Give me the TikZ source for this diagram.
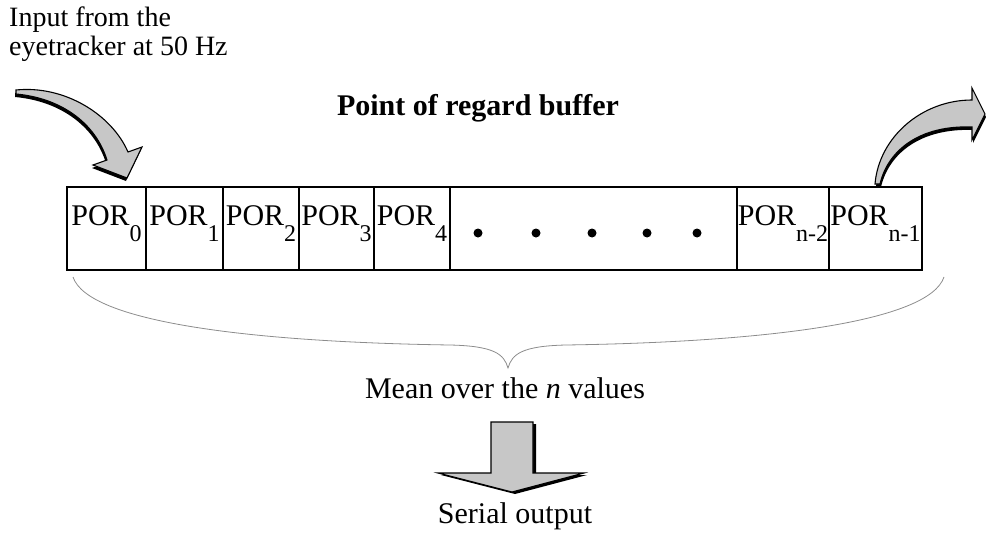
\documentclass[tikz,border=0pt]{standalone}
\usepackage{fontspec}
\setmainfont{Liberation Serif}
\definecolor{arrowgray}{gray}{0.78}
\definecolor{bracegray}{gray}{0.55}
% lowered, slightly smaller index after "POR"
\newcommand{\porsub}[1]{\raisebox{-16pt}{\fontsize{24}{24}\selectfont #1}}
% outlines of the three block arrows (pixel-like units, y downwards)
\newcommand{\inarrowpath}{(16,90) .. controls (65,85) and (112,115) .. (128,152)
  -- (142,147) -- (127,178) -- (93,165) -- (107,160)
  .. controls (95,122) and (60,98) .. (16,94) -- cycle}
\newcommand{\outarrowpath}{(875,184) .. controls (879,137) and (922,100) .. (972,100)
  -- (972,88) -- (985,114) -- (972,140) -- (972,127)
  .. controls (920,125) and (888,150) .. (880,184) -- cycle}
\newcommand{\downarrowpath}{(491,422) -- (533,422) -- (533,473) -- (584,473)
  -- (512,492) -- (438,473) -- (491,473) -- cycle}
\begin{document}
\begin{tikzpicture}[x=1pt,y=-1pt,
  cell/.style={draw,line width=1.6pt,minimum height=83pt,inner sep=0pt,
    font=\fontsize{30}{30}\selectfont,text height=21pt,text depth=28pt},
  lbl/.style={inner sep=0pt,font=\fontsize{30}{30}\selectfont},
  dotmark/.style={circle,fill=black,inner sep=0pt,minimum size=9pt},
  blockarrow/.style={fill=arrowgray,draw=black,line width=1.1pt,line join=miter},
  arrowshadow/.style={fill=black}]
\useasboundingbox (0,0) rectangle (986,538);

% input label
\node[lbl,anchor=base west,font=\fontsize{28}{28}\selectfont] (in1) at (9,27) {Input from the};
\node[lbl,anchor=base west,font=\fontsize{28}{28}\selectfont] (in2) at (9,55) {eyetracker at 50 Hz};

% title
\node[lbl,anchor=base,font=\fontsize{30}{30}\selectfont\bfseries] (title) at (478,115) {Point of regard buffer};

% buffer cells
\node[cell,minimum width=79pt] (c0) at (106.5,228.5) {POR\porsub{0}};
\node[cell,minimum width=77pt] (c1) at (184.5,228.5) {POR\porsub{1}};
\node[cell,minimum width=76pt] (c2) at (261,228.5) {POR\porsub{2}};
\node[cell,minimum width=75pt] (c3) at (336.5,228.5) {POR\porsub{3}};
\node[cell,minimum width=76pt] (c4) at (412,228.5) {POR\porsub{4}};
\node[cell,minimum width=287pt] (cmid) at (593.5,228.5) {};
\node[cell,minimum width=92pt] (cn2) at (783,228.5) {POR\porsub{n-2}};
\node[cell,minimum width=93pt] (cn1) at (875.5,228.5) {POR\porsub{n-1}};

% ellipsis dots
\node[dotmark] (d1) at (478,233) {};
\node[dotmark] (d2) at (536,233) {};
\node[dotmark] (d3) at (592,233) {};
\node[dotmark] (d4) at (647,233) {};
\node[dotmark] (d5) at (697,233) {};

% brace under the buffer
\coordinate (bl) at (73,277);
\coordinate (br) at (944,277);
\coordinate (bt) at (508,368);
\draw[bracegray,line width=0.8pt] (bl) .. controls (88,322) and (250,342) .. (450,345)
  .. controls (494,346) and (504,354) .. (bt)
  .. controls (512,354) and (522,346) .. (566,345)
  .. controls (766,342) and (929,322) .. (br);

% mean label and output
\node[lbl,anchor=base] (mean) at (505,398) {Mean over the \textit{n} values};
\node[lbl,anchor=base] (serial) at (515,523) {Serial output};

% block arrows with drop shadow
\fill[arrowshadow,shift={(-1,3)}] \inarrowpath;
\filldraw[blockarrow] \inarrowpath;
\fill[arrowshadow,shift={(1,3)}] \outarrowpath;
\filldraw[blockarrow] \outarrowpath;
\fill[arrowshadow,shift={(3,2)}] \downarrowpath;
\filldraw[blockarrow] \downarrowpath;
\end{tikzpicture}
\end{document}
